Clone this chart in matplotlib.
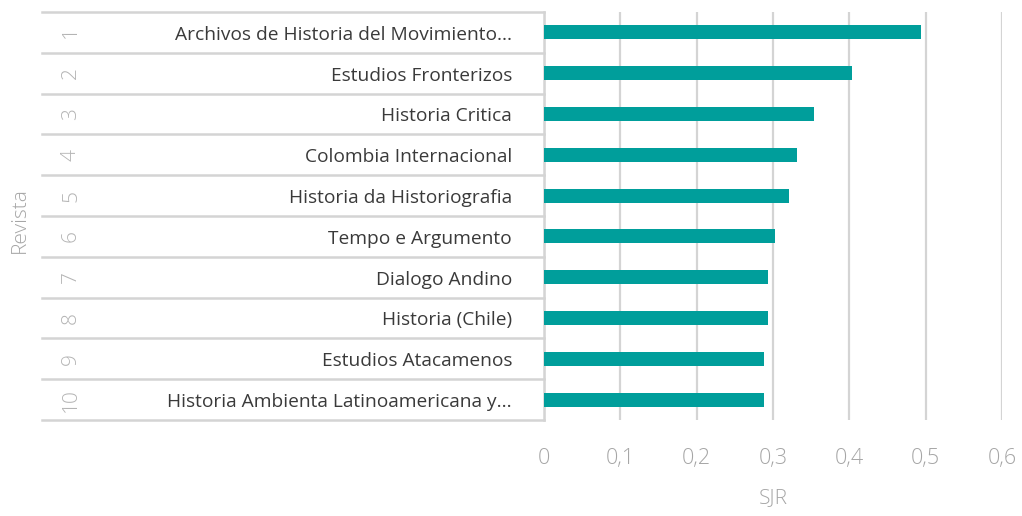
import matplotlib.pyplot as plt
import matplotlib.transforms as mtransforms

ranks = ["1", "2", "3", "4", "5", "6", "7", "8", "9", "10"]
journals = [
    "Archivos de Historia del Movimiento...",
    "Estudios Fronterizos",
    "Historia Critica",
    "Colombia Internacional",
    "Historia da Historiografia",
    "Tempo e Argumento",
    "Dialogo Andino",
    "Historia (Chile)",
    "Estudios Atacamenos",
    "Historia Ambienta Latinoamericana y...",
]
sjr = [0.494, 0.403, 0.354, 0.332, 0.321, 0.303, 0.293, 0.293, 0.288, 0.288]
xticks = [0, 0.1, 0.2, 0.3, 0.4, 0.5, 0.6]

teal = "#009e9b"
grid_c = "#d4d4d4"
plt.rcParams["font.family"] = ["Open Sans", "DejaVu Sans"]

fig = plt.figure(figsize=(10.22, 5.16), dpi=100)
ax = fig.add_axes([544 / 1022, 1 - 420 / 516, 458 / 1022, 408 / 516])

ypos = list(range(len(journals)))
ax.barh(ypos, sjr, height=0.34, color=teal, zorder=3)
ax.set_ylim(len(journals) - 0.5, -0.5)
ax.set_xlim(0, 0.6)

ax.set_xticks(xticks)
ax.set_xticklabels([("%g" % t).replace(".", ",") for t in xticks],
                   fontweight="light")
ax.tick_params(axis="x", length=0, pad=20, labelsize=15.5, labelcolor="#a6a6a6")
ax.set_yticks([])
ax.grid(axis="x", color=grid_c, linewidth=1.6, zorder=0)
for s in ["top", "right", "bottom", "left"]:
    ax.spines[s].set_visible(False)

# table-like category axis on the left
trans = mtransforms.blended_transform_factory(ax.transAxes, ax.transData)
x_left = (42 - 544) / 458
for b in [i - 0.5 for i in range(len(journals) + 1)]:
    ax.plot([x_left, 0], [b, b], transform=trans, color=grid_c,
            linewidth=1.8, clip_on=False, zorder=1)
ax.plot([0, 0], [-0.5, len(journals) - 0.5], transform=trans, color=grid_c,
        linewidth=1.8, clip_on=False, zorder=1)

for i, (r, name) in enumerate(zip(ranks, journals)):
    ax.text((71 - 544) / 458, i, r, transform=trans, rotation=90,
            ha="center", va="center", fontsize=15, color="#b4b4b4",
            fontweight="light")
    ax.text((512 - 544) / 458, i + 0.06, name, transform=trans,
            ha="right", va="center", fontsize=13.8, color="#3a3a3a")

ax.set_xlabel("SJR", fontsize=15, color="#a6a6a6", labelpad=14,
              fontweight="light")
fig.text(20 / 1022, 1 - 220 / 516, "Revista", rotation=90, ha="center",
         va="center", fontsize=15, color="#a6a6a6", fontweight="light")

fig.savefig("out.png", dpi=100)
